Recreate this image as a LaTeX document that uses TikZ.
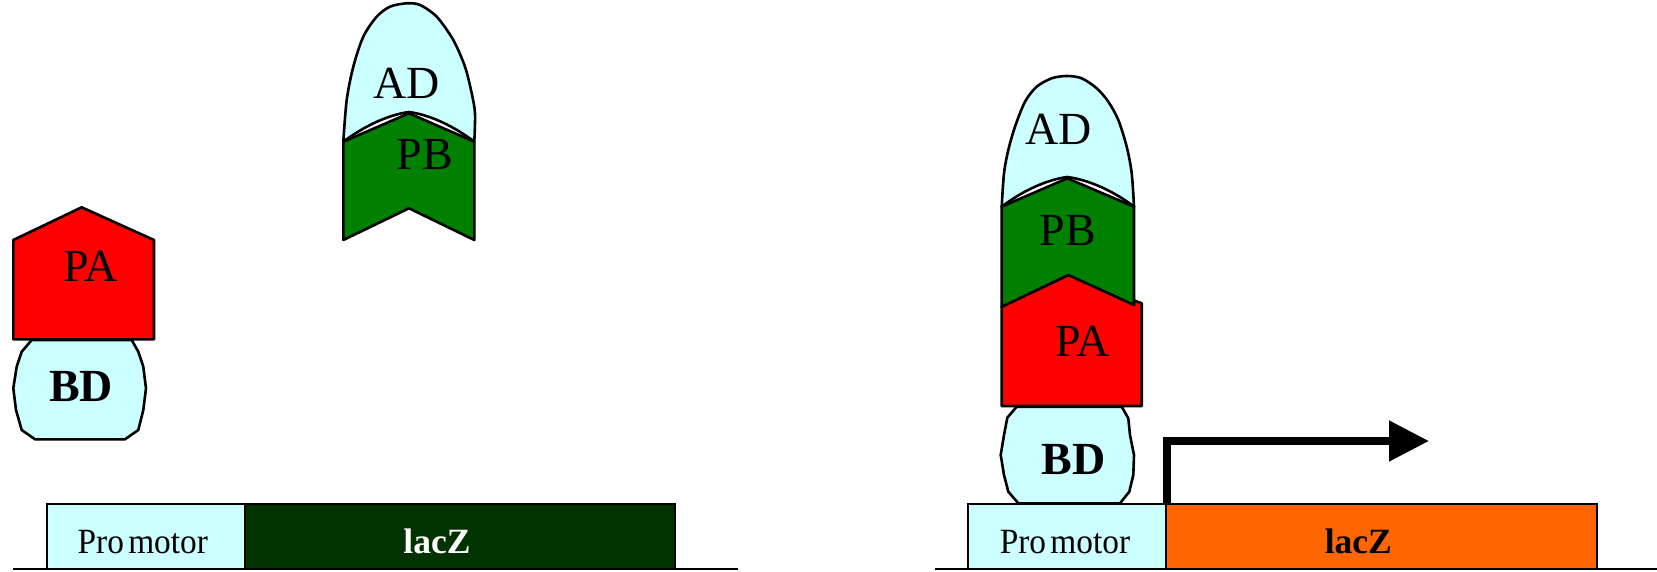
\documentclass[tikz,border=0pt]{standalone}
\usepackage{fontspec}
\setmainfont{Liberation Serif}
\usetikzlibrary{arrows.meta}
\definecolor{domcyan}{HTML}{CCFFFF}
\definecolor{pared}{HTML}{FF0000}
\definecolor{pbgreen}{HTML}{008000}
\definecolor{lacdark}{HTML}{003300}
\definecolor{lacorange}{HTML}{FF6600}
\begin{document}
\begin{tikzpicture}[x=1pt,y=-1pt,
  shapeline/.style={draw=black,line width=2.6pt,line join=round},
  boxline/.style={draw=black,line width=2.2pt},
  dnaline/.style={draw=black,line width=2.2pt},
  protlabel/.style={anchor=base,inner sep=0pt,font=\fontsize{46}{50}\selectfont},
  bdlabel/.style={anchor=base,inner sep=0pt,font=\fontsize{46}{50}\selectfont\bfseries},
  genelabel/.style={anchor=base,inner sep=0pt,font=\fontsize{35.5}{40}\selectfont},
  laclabel/.style={anchor=base,inner sep=0pt,font=\fontsize{35.5}{40}\selectfont\bfseries},
  tssarrow/.style={draw=black,line width=8pt,line join=miter,-{Triangle[length=40pt,width=39pt]}}]
\useasboundingbox (0,0) rectangle (1657,572);

% ---------------- left panel ----------------
\coordinate (dnaLa) at (13.3,569);
\coordinate (dnaLb) at (738.3,569);
\draw[dnaline] (dnaLa) -- (dnaLb);
\draw[boxline,fill=domcyan] (46.7,504) rectangle (245,569);
\draw[boxline,fill=lacdark] (245,504) rectangle (675,569);
\node[genelabel] (promL) at (142.8,553.3) {\scalebox{0.94}[1]{Pro\hspace{-0.12em} motor}};
\node[laclabel,text=white] (laczL) at (437,553.3) {lacZ};

% BD left
\draw[shapeline,fill=domcyan] (31.7,340) -- (21.7,351.7) -- (16.7,366.7) -- (13.3,388.3) -- (16,410) -- (21.7,430) -- (35,439.3) -- (125,439.3) -- (138.3,430) -- (143.3,410) -- (146,388.3) -- (143.3,366.7) -- (138.3,351.7) -- (131.7,340) -- cycle;
% PA left
\draw[shapeline,fill=pared] (13.3,339.3) -- (13.3,240) -- (81.7,207.3) -- (154,240) -- (154,339.3) -- cycle;
\node[bdlabel] (bdL) at (81,401.7) {BD};
\node[protlabel] (paL) at (90.8,281.7) {PA};

% AD left
\draw[shapeline,fill=domcyan] (343.3,141.7) -- plot[smooth] coordinates {(343.3,141.7) (346.7,100) (353.3,66.7) (363.3,36.7) (376.7,16.7) (390,6.7) (406.7,3.3) (420,5) (436.7,16.7) (453.3,40) (465,66.7) (471.7,93.3) (475,113.3) (474.3,141.7)}
  .. controls (455,127) and (431,115) .. (409,112) .. controls (387,115) and (363,127) .. (343.3,141.7) -- cycle;
% PB left
\draw[shapeline,fill=pbgreen] (343.3,141.7) -- (409,113.3) -- (474.3,141.7) -- (474.3,240) -- (409,208.3) -- (343.3,240) -- cycle;
\node[protlabel] (adL) at (406.7,98.3) {AD};
\node[protlabel] (pbL) at (425,170) {PB};

% ---------------- right panel ----------------
\coordinate (dnaRa) at (935,569);
\coordinate (dnaRb) at (1657,569);
\draw[dnaline] (dnaRa) -- (dnaRb);
\draw[boxline,fill=domcyan] (968.3,504) rectangle (1166,569);
\draw[boxline,fill=lacorange] (1166,504) rectangle (1596.7,569);
\node[genelabel] (promR) at (1065,553.3) {\scalebox{0.94}[1]{Pro\hspace{-0.12em} motor}};
\node[laclabel] (laczR) at (1358.3,553.3) {lacZ};

% BD right
\draw[shapeline,fill=domcyan] (1016.7,406.7) -- (1007.3,417.7) -- (1004,435) -- (1000.7,455) -- (1004,475) -- (1008.3,491.7) -- (1018.3,503.3) -- (1120,503.3) -- (1129.3,491.7) -- (1133.3,475) -- (1134,455) -- (1130,435) -- (1128.3,418.3) -- (1121.7,406.7) -- cycle;
% PA right
\draw[shapeline,fill=pared] (1001.7,406) -- (1001.7,306.7) -- (1068.3,275) -- (1141.7,303.3) -- (1141.7,406) -- cycle;
% PB right
\draw[shapeline,fill=pbgreen] (1001.7,206.7) -- (1067.3,178.3) -- (1134,206.7) -- (1134,305) -- (1068.3,275) -- (1001.7,306.7) -- cycle;
% AD right
\draw[shapeline,fill=domcyan] (1001.7,206.7) -- plot[smooth] coordinates {(1001.7,206.7) (1004,173.3) (1008.3,150) (1015,126.7) (1025,101.7) (1036.7,86.7) (1051.7,78.3) (1066.7,76) (1081.7,78.3) (1096.7,88.3) (1108.3,101.7) (1118.3,120) (1126.7,146.7) (1131.7,173.3) (1134,206.7)}
  .. controls (1115,192) and (1090,180) .. (1067.3,177) .. controls (1045,180) and (1021,192) .. (1001.7,206.7) -- cycle;

\node[protlabel] (adR) at (1058.8,145) {AD};
\node[protlabel] (pbR) at (1067.8,245) {PB};
\node[protlabel] (paR) at (1082.7,356.7) {PA};
\node[bdlabel] (bdR) at (1073.3,474.3) {BD};

% transcription arrow
\coordinate (tss) at (1167.3,504);
\coordinate (tssend) at (1429,441);
\draw[tssarrow] (tss) |- (tssend);
\end{tikzpicture}
\end{document}
